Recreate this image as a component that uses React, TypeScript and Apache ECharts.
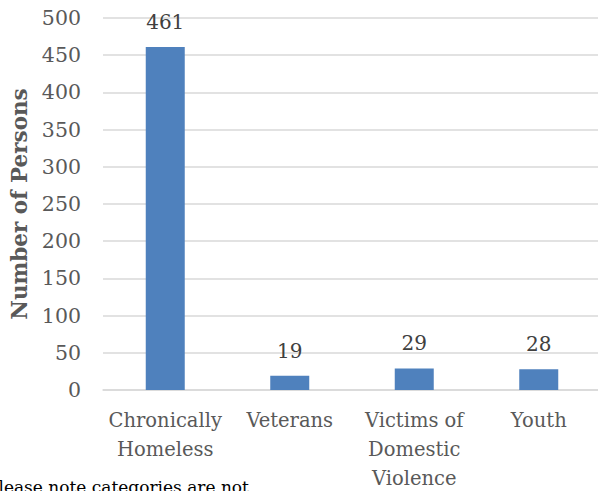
import React, { useEffect, useRef } from "react";
import * as echarts from "echarts";

const categories = ["Chronically\nHomeless", "Veterans", "Victims of\nDomestic\nViolence", "Youth"];
const values = [461, 19, 29, 28];
const yTicks = { min: 0, max: 500, interval: 50 };
const yTitle = "Number of Persons";
const footnote = "Please note categories are not";

const FONT = "DejaVu Serif";

export default function App() {
  const ref = useRef<HTMLDivElement>(null);
  useEffect(() => {
    document.body.style.margin = "0";
    const chart = echarts.init(ref.current!, null, { renderer: "svg" });
    chart.setOption({
      animation: false,
      backgroundColor: "#ffffff",
      grid: {
        left: 103,
        top: 18,
        width: 498,
        height: 372,
        containLabel: false,
        outerBoundsMode: "none",
      },
      xAxis: {
        type: "category",
        data: categories,
        axisLine: { show: true, lineStyle: { color: "#d9d9d9", width: 1.5 } },
        axisTick: { show: false },
        axisLabel: {
          color: "#595959",
          fontFamily: FONT,
          fontSize: 19.5,
          lineHeight: 29,
          margin: 16,
          interval: 0,
        },
      },
      yAxis: {
        type: "value",
        min: yTicks.min,
        max: yTicks.max,
        interval: yTicks.interval,
        axisLine: { show: false },
        axisTick: { show: false },
        splitLine: { lineStyle: { color: "#d9d9d9", width: 1.5 } },
        axisLabel: {
          color: "#595959",
          fontFamily: FONT,
          fontSize: 20.5,
          margin: 22,
        },
        name: yTitle,
        nameLocation: "middle",
        nameGap: 72,
        nameTextStyle: {
          color: "#595959",
          fontFamily: FONT,
          fontSize: 21.5,
          fontWeight: "bold",
        },
      },
      series: [
        {
          type: "bar",
          data: values,
          barWidth: 39,
          itemStyle: { color: "#4f81bd" },
          label: {
            show: true,
            position: "top",
            distance: 15,
            color: "#404040",
            fontFamily: FONT,
            fontSize: 20,
          },
        },
      ],
      graphic: [
        {
          type: "text",
          left: -13,
          top: 478,
          style: {
            text: footnote,
            fill: "#000000",
            fontFamily: FONT,
            fontSize: 17,
          },
        },
      ],
    });
    return () => chart.dispose();
  }, []);
  return <div ref={ref} style={{ width: 598, height: 491 }} />;
}
